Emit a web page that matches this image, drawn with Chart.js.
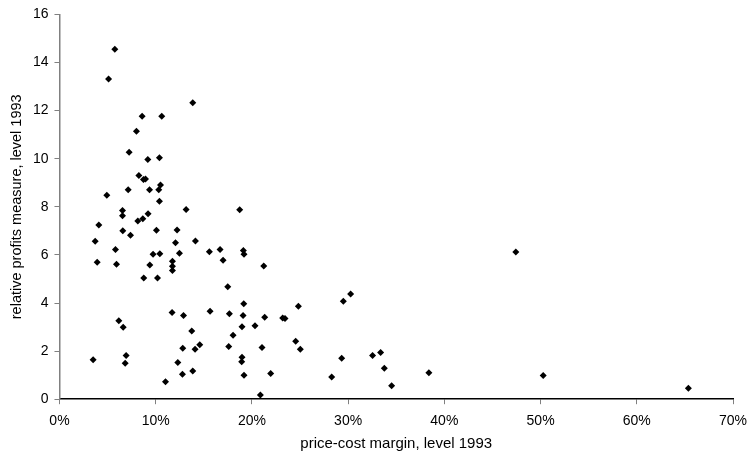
<!DOCTYPE html>
<html>
<head>
<meta charset="utf-8">
<script src="https://cdn.jsdelivr.net/npm/chart.js@4/dist/chart.umd.min.js"></script>
<style>
  html, body { margin: 0; padding: 0; background: #fff; }
  #wrap { width: 747px; height: 454px; position: relative; }
</style>
</head>
<body>
<div id="wrap"><canvas id="scatterChart"></canvas></div>
<script>
// price-cost margin (percent), level 1993
const margin = [
  5.75, 5.1, 13.85, 8.59, 10.63, 8.0, 7.24, 9.18, 10.39, 8.25,
  8.73, 8.94, 4.92, 7.14, 9.36, 10.32, 10.5, 10.39, 6.55, 6.55,
  4.09, 3.71, 3.92, 6.58, 7.38, 8.14, 8.66, 9.21, 13.16, 10.08,
  12.22, 5.82, 5.93, 9.73, 10.43, 12.06, 12.47, 14.13, 9.39, 8.76,
  10.19, 11.74, 11.74, 11.74, 11.7, 12.89, 13.75, 14.09, 14.58, 12.81,
  12.3, 12.78, 13.85, 11.02, 6.17, 6.62, 6.93, 6.83, 3.5, 15.65,
  15.58, 16.69, 17.0, 17.49, 17.66, 18.04, 17.59, 18.73, 19.11, 19.18,
  19.15, 19.08, 18.97, 18.97, 18.94, 19.18, 21.23, 21.33, 23.2, 23.44,
  24.83, 29.5, 30.26, 20.32, 24.55, 25.03, 21.05, 21.95, 20.88, 29.33,
  28.29, 32.54, 33.38, 33.76, 34.52, 38.39, 47.43, 50.27, 65.36
];
// relative profits measure, level 1993
const profits = [
  14.55, 13.31, 12.33, 11.77, 11.77, 11.14, 10.27, 9.97, 10.04, 9.30,
  9.13, 9.16, 8.48, 8.71, 8.71, 8.71, 8.91, 8.23, 7.85, 7.63,
  7.24, 6.57, 5.69, 7.0, 6.82, 7.41, 7.50, 7.71, 7.89, 7.02,
  7.04, 6.22, 5.61, 6.03, 6.05, 6.51, 6.07, 6.58, 5.58, 5.04,
  5.04, 5.74, 5.53, 5.35, 3.61, 3.48, 2.84, 2.08, 2.26, 2.12,
  1.53, 1.04, 1.17, 0.73, 3.26, 2.99, 1.82, 1.49, 1.64, 3.66,
  6.13, 6.22, 5.78, 4.68, 3.55, 2.66, 2.19, 7.88, 6.18, 6.03,
  3.97, 3.48, 3.01, 1.74, 1.56, 1.0, 5.54, 3.41, 3.38, 3.36,
  3.86, 4.07, 4.37, 3.05, 2.41, 2.08, 2.15, 1.07, 0.17, 1.70,
  0.92, 1.82, 1.94, 1.29, 0.56, 1.10, 6.12, 0.99, 0.46
];
const xTitle = 'price-cost margin, level 1993';
const yTitle = 'relative profits measure, level 1993';

const points = margin.map((m, i) => ({ x: m, y: profits[i] }));

const family = "'Liberation Sans', Arial, sans-serif";
const tickFont = { family: family, size: 14 };

const ctx = document.getElementById('scatterChart').getContext('2d');
new Chart(ctx, {
  type: 'scatter',
  data: {
    datasets: [{
      data: points,
      pointStyle: 'rectRot',
      radius: 3.5,
      backgroundColor: '#000',
      borderColor: '#000',
      borderWidth: 0
    }]
  },
  options: {
    responsive: true,
    maintainAspectRatio: false,
    animation: false,
    layout: { padding: { top: 7, right: 0, bottom: 1, left: 8 } },
    plugins: { legend: { display: false }, tooltip: { enabled: false } },
    scales: {
      x: {
        type: 'linear',
        min: 0,
        max: 70,
        // keep only half the last label's width free on the right
        afterFit: (scale) => { scale.paddingRight = 14; },
        ticks: {
          stepSize: 10,
          color: '#000',
          font: tickFont,
          padding: 9,
          maxRotation: 0,
          callback: (v) => v + '%'
        },
        grid: { drawOnChartArea: false, drawTicks: true, tickLength: 5, tickColor: '#808080' },
        border: { color: '#000', width: 1.5 },
        title: { display: true, text: xTitle, color: '#000', font: { family: family, size: 15 }, padding: { top: -4, bottom: 0 } }
      },
      y: {
        min: 0,
        max: 16,
        ticks: { stepSize: 2, color: '#000', font: tickFont, padding: 6 },
        grid: { drawOnChartArea: false, drawTicks: true, tickLength: 5, tickColor: '#808080' },
        border: { color: '#808080', width: 1.5 },
        title: { display: true, text: yTitle, color: '#000', font: { family: family, size: 14.5 }, padding: { top: 0, bottom: 1.5 } }
      }
    }
  }
});
</script>
</body>
</html>
